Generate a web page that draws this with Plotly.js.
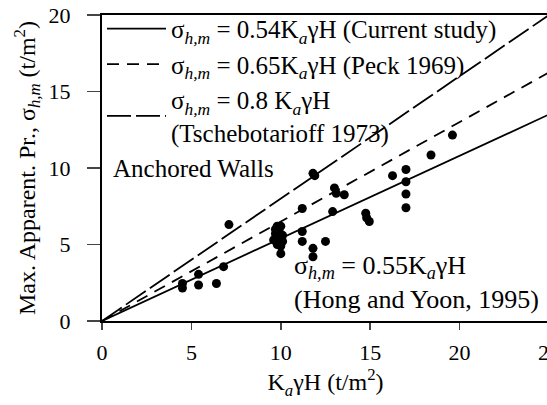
<!DOCTYPE html>
<html>
<head>
<meta charset="utf-8">
<script src="https://cdn.plot.ly/plotly-3.0.1.min.js"></script>
<style>
html,body{margin:0;padding:0;overflow:hidden;background:#fff;width:547px;height:405px;}
#chart{width:560px;height:405px;}
</style>
</head>
<body>
<div id="chart"></div>
<script>
// Measured data (Anchored Walls)
const kaH = [4.5, 4.5, 5.4, 5.4, 6.4, 6.8, 7.1,
  9.6, 9.7, 9.7, 9.8, 9.9, 9.9, 10.0, 10.0, 10.1, 10.0, 9.8, 10.1,
  11.2, 11.2, 11.2, 11.8, 11.8, 11.8, 11.9, 12.5,
  12.9, 13.0, 13.1, 13.55, 14.75, 14.8, 14.95,
  16.25, 17.0, 17.0, 17.0, 17.0, 18.4, 19.6];
const sigma = [2.15, 2.45, 3.05, 2.35, 2.45, 3.55, 6.3,
  5.3, 5.7, 6.0, 5.0, 5.5, 5.9, 6.2, 4.9, 5.6, 4.4, 6.2, 5.2,
  5.85, 5.2, 7.35, 4.75, 4.2, 9.65, 9.5, 5.2,
  7.15, 8.7, 8.35, 8.25, 7.05, 6.75, 6.5,
  9.5, 9.9, 9.1, 8.3, 7.4, 10.85, 12.15];

// Design lines  sigma = k * KaγH
const lineX = [0, 25];
const coefs = [0.54, 0.65, 0.8];
const lineNames = [
  'σ<sub><i>h,m</i></sub> = 0.54K<sub><i>a</i></sub>γH (Current study)',
  'σ<sub><i>h,m</i></sub> = 0.65K<sub><i>a</i></sub>γH (Peck 1969)',
  'σ<sub><i>h,m</i></sub> = 0.8 K<sub><i>a</i></sub>γH<br>(Tschebotarioff 1973)'
];
const lineDash = ['solid', '12px,8px', '24px,5px'];

const xTicks = [0, 5, 10, 15, 20, 25];
const yTicks = [0, 5, 10, 15, 20];

const FONT = '"Liberation Serif", "DejaVu Serif", serif';

const traces = coefs.map((k, i) => ({
  type: 'scatter', mode: 'lines',
  x: lineX, y: lineX.map(v => k * v),
  name: lineNames[i],
  line: {color: '#000', width: 1.8, dash: lineDash[i]},
  hoverinfo: 'skip'
}));
traces.push({
  type: 'scatter', mode: 'markers',
  x: kaH, y: sigma, name: 'Anchored Walls', showlegend: false,
  marker: {color: '#000', size: 9}
});

const layout = {
  width: 560, height: 405,
  margin: {l: 102, r: 11, t: 15, b: 84, autoexpand: false},
  paper_bgcolor: '#fff', plot_bgcolor: '#fff',
  font: {family: FONT, color: '#000', size: 20},
  showlegend: true,
  legend: {
    x: 0, y: 1.03, xanchor: 'left', yanchor: 'top',
    bgcolor: 'rgba(0,0,0,0)', borderwidth: 0,
    font: {family: FONT, size: 25, color: '#000'},
    itemwidth: 59, tracegroupgap: 0
  },
  xaxis: {
    range: [0, 25], tickvals: xTicks, ticks: 'outside', ticklen: 7, tickwidth: 1.5,
    showline: true, linecolor: '#000', linewidth: 2, mirror: true,
    showgrid: false, zeroline: false,
    tickfont: {family: FONT, size: 22}, ticklabelstandoff: 4,
    title: {text: 'K<sub><i>a</i></sub>γH (t/m<sup>2</sup>)', font: {family: FONT, size: 24}, standoff: 9}
  },
  yaxis: {
    range: [0, 20], tickvals: yTicks, ticks: 'outside', ticklen: 13, tickwidth: 1.5,
    showline: true, linecolor: '#000', linewidth: 2, mirror: true,
    showgrid: false, zeroline: false,
    tickfont: {family: FONT, size: 22}, ticklabelstandoff: 12,
    title: {text: 'Max. Apparent. Pr., σ<sub><i>h,m</i></sub> (t/m<sup>2</sup>)', font: {family: FONT, size: 24}, standoff: 6}
  },
  annotations: [
    {x: 0.5, y: 10, xref: 'x', yref: 'y', xanchor: 'left', yanchor: 'middle',
     text: 'Anchored Walls', showarrow: false, font: {family: FONT, size: 25}},
    {x: 10.6, y: 2.5, xref: 'x', yref: 'y', xanchor: 'left', yanchor: 'middle', align: 'left',
     text: 'σ<sub><i>h,m</i></sub> = 0.55K<sub><i>a</i></sub>γH<br>(Hong and Yoon, 1995)',
     showarrow: false, font: {family: FONT, size: 26}}
  ]
};

Plotly.newPlot('chart', traces, layout, {displayModeBar: false, staticPlot: true});
</script>
</body>
</html>
